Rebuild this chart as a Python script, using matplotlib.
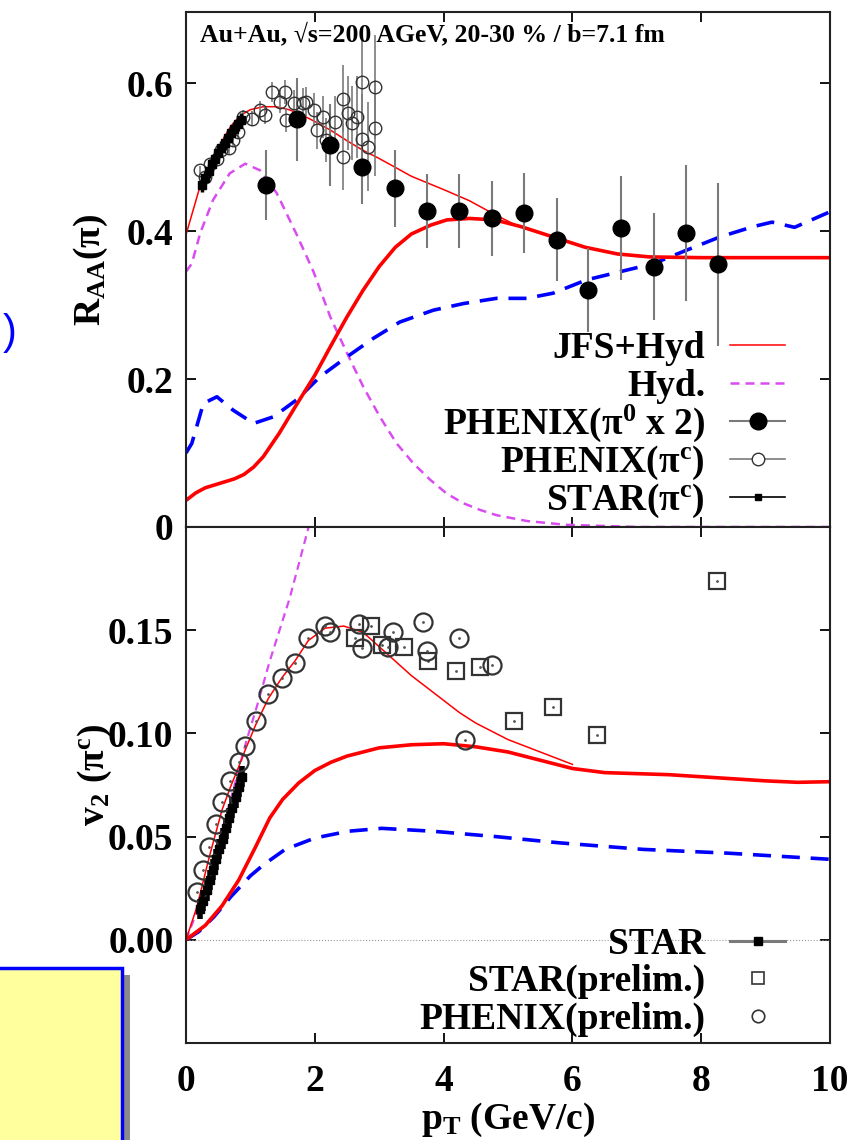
import numpy as np
import matplotlib.pyplot as plt
from matplotlib.patches import Rectangle

# ---------------------- fonts ----------------------
plt.rcParams['font.family'] = ['Liberation Serif', 'DejaVu Serif']
plt.rcParams['font.weight'] = 'bold'
plt.rcParams['axes.labelweight'] = 'bold'
plt.rcParams['mathtext.fontset'] = 'custom'
plt.rcParams['mathtext.rm'] = 'Liberation Serif:bold'
plt.rcParams['mathtext.it'] = 'Liberation Serif:bold'
plt.rcParams['mathtext.bf'] = 'Liberation Serif:bold'
plt.rcParams['mathtext.default'] = 'rm'

# ---------------------- top panel: R_AA ----------------------
jfs_thin_x = [0.0, 0.2, 0.3, 0.4, 0.5, 0.6, 0.7, 0.8, 0.9, 1.0, 1.2, 1.4, 1.6, 1.8, 2.0,
              2.25, 2.5, 2.75, 3.0, 3.5, 4.0, 4.4, 4.8, 5.1]
jfs_thin_y = [0.395, 0.455, 0.475, 0.495, 0.51, 0.528, 0.542, 0.552, 0.559, 0.564, 0.568,
              0.568, 0.564, 0.557, 0.548, 0.536, 0.522, 0.509, 0.498, 0.474, 0.456, 0.441,
              0.422, 0.409]

jfs_thick_x = [0.0, 0.15, 0.3, 0.45, 0.6, 0.75, 0.9, 1.05, 1.2, 1.45, 1.7, 2.0, 2.25, 2.5,
               2.75, 3.0, 3.25, 3.5, 3.8, 4.05, 4.4, 4.8, 5.2, 5.7, 6.2, 6.7, 7.2, 8.0,
               9.0, 10.0]
jfs_thick_y = [0.036, 0.046, 0.053, 0.057, 0.061, 0.065, 0.071, 0.081, 0.095, 0.127,
               0.163, 0.205, 0.245, 0.284, 0.320, 0.352, 0.378, 0.396, 0.408, 0.415,
               0.417, 0.415, 0.406, 0.392, 0.378, 0.369, 0.365, 0.364, 0.364, 0.364]

blue_top_x = [0.0, 0.09, 0.27, 0.48, 0.73, 1.05, 1.36, 1.72, 2.08, 2.5, 2.91, 3.32, 3.84,
              4.31, 4.82, 5.29, 5.7, 6.22, 6.74, 7.26, 7.77, 8.29, 8.81, 9.1, 9.45, 10.0]
blue_top_y = [0.100, 0.113, 0.167, 0.176, 0.158, 0.140, 0.149, 0.172, 0.203, 0.230, 0.255,
              0.277, 0.293, 0.302, 0.309, 0.309, 0.316, 0.334, 0.345, 0.356, 0.374, 0.392,
              0.406, 0.412, 0.405, 0.426]

hyd_top_x = [0.0, 0.09, 0.22, 0.42, 0.68, 0.92, 1.15, 1.41, 1.72, 1.98, 2.24, 2.5, 2.75,
             3.01, 3.27, 3.53, 3.79, 4.05, 4.31, 4.57, 4.82, 5.3, 5.9, 7.0, 10.0]
hyd_top_y = [0.345, 0.356, 0.397, 0.442, 0.478, 0.491, 0.482, 0.451, 0.395, 0.345, 0.284,
             0.235, 0.190, 0.149, 0.113, 0.086, 0.064, 0.045, 0.032, 0.023, 0.016, 0.008,
             0.003, 0.0, 0.0]

phenix_pi0_x = [1.24, 1.73, 2.24, 2.74, 3.25, 3.75, 4.24, 4.75, 5.25, 5.76, 6.25, 6.75,
                7.26, 7.76, 8.26]
phenix_pi0_y = [0.462, 0.551, 0.516, 0.487, 0.458, 0.427, 0.427, 0.417, 0.424, 0.388,
                0.320, 0.404, 0.352, 0.397, 0.355]
phenix_pi0_err = [0.047, 0.056, 0.055, 0.050, 0.052, 0.050, 0.050, 0.051, 0.054, 0.056,
                  0.057, 0.070, 0.072, 0.092, 0.110]

phenix_pic_x = [0.22, 0.30, 0.37, 0.48, 0.55, 0.66, 0.73, 0.81, 0.89, 1.02, 1.15, 1.23,
                1.33, 1.46, 1.54, 1.56, 1.67, 1.82, 1.87, 1.98, 2.03, 2.13, 2.18, 2.31,
                2.44, 2.44, 2.52, 2.57, 2.65, 2.73, 2.73, 2.83, 2.93, 2.93]
phenix_pic_y = [0.482, 0.473, 0.491, 0.498, 0.509, 0.512, 0.523, 0.534, 0.554, 0.552,
                0.564, 0.557, 0.588, 0.575, 0.588, 0.550, 0.573, 0.573, 0.575, 0.564,
                0.536, 0.554, 0.523, 0.548, 0.579, 0.500, 0.559, 0.546, 0.554, 0.602,
                0.525, 0.514, 0.595, 0.539]
phenix_pic_err = [0.006, 0.006, 0.006, 0.007, 0.007, 0.008, 0.008, 0.009, 0.010, 0.010,
                  0.012, 0.012, 0.014, 0.015, 0.016, 0.016, 0.018, 0.020, 0.020, 0.022,
                  0.025, 0.028, 0.030, 0.035, 0.045, 0.045, 0.050, 0.050, 0.055, 0.070,
                  0.060, 0.060, 0.070, 0.065]

star_top_x = [0.25, 0.30, 0.35, 0.40, 0.45, 0.50, 0.55, 0.60, 0.65, 0.70, 0.75, 0.80, 0.85]
star_top_y = [0.462, 0.472, 0.481, 0.490, 0.498, 0.505, 0.512, 0.519, 0.526, 0.532,
              0.538, 0.544, 0.550]
star_top_err = [0.009] * 13

# ---------------------- bottom panel: v2 ----------------------
jfs_thin_v2_x = [0.0, 0.17, 0.36, 0.56, 0.69, 0.82, 0.92, 1.08, 1.28, 1.49, 1.69, 1.9,
                 2.16, 2.45, 2.75, 3.0, 3.25, 3.5, 3.75, 4.0, 4.25, 4.5, 4.75, 5.0, 5.25,
                 5.5, 5.75, 6.0]
jfs_thin_v2_y = [0.0, 0.016, 0.040, 0.063, 0.074, 0.084, 0.092, 0.104, 0.117, 0.127,
                 0.135, 0.145, 0.151, 0.152, 0.149, 0.142, 0.135, 0.128, 0.122, 0.116,
                 0.110, 0.105, 0.101, 0.097, 0.094, 0.091, 0.088, 0.085]

jfs_thick_v2_x = [0.0, 0.3, 0.56, 0.82, 1.08, 1.3, 1.5, 1.75, 2.0, 2.25, 2.5, 3.0, 3.5,
                  4.0, 4.5, 5.0, 5.5, 6.0, 6.5, 7.0, 7.5, 8.0, 8.5, 9.0, 9.5, 10.0]
jfs_thick_v2_y = [0.0, 0.007, 0.0165, 0.029, 0.045, 0.059, 0.068, 0.076, 0.082, 0.086,
                  0.089, 0.093, 0.0945, 0.095, 0.0935, 0.091, 0.087, 0.083, 0.081, 0.0805,
                  0.080, 0.079, 0.078, 0.077, 0.0763, 0.0766]

blue_v2_x = [0.0, 0.2, 0.43, 0.7, 1.0, 1.21, 1.54, 2.0, 2.52, 3.04, 3.83, 4.81, 5.79,
             7.1, 8.4, 10.0]
blue_v2_y = [0.0, 0.004, 0.011, 0.021, 0.031, 0.0365, 0.0438, 0.0493, 0.0526, 0.054,
             0.0526, 0.050, 0.047, 0.0438, 0.042, 0.039]

hyd_v2_x = [0.0, 0.3, 0.6, 0.94, 1.1, 1.3, 1.61, 1.87, 1.92]
hyd_v2_y = [0.0, 0.024, 0.057, 0.0966, 0.113, 0.135, 0.1655, 0.196, 0.202]

star_v2_x = [0.22, 0.27, 0.32, 0.37, 0.42, 0.47, 0.52, 0.57, 0.62, 0.67, 0.72, 0.77,
             0.82, 0.87]
star_v2_y = [0.015, 0.019, 0.024, 0.029, 0.034, 0.039, 0.044, 0.049, 0.054, 0.059,
             0.064, 0.069, 0.074, 0.079]
star_v2_err = [0.005] * 14

star_pre_x = [2.63, 2.88, 3.04, 3.39, 3.76, 4.19, 4.57, 5.09, 5.70, 6.38, 8.25]
star_pre_y = [0.146, 0.152, 0.143, 0.142, 0.135, 0.130, 0.132, 0.106, 0.113, 0.0993, 0.1736]

phenix_pre_x = [0.17, 0.27, 0.36, 0.46, 0.56, 0.69, 0.82, 0.92, 1.08, 1.28, 1.49, 1.69,
                1.90, 2.16, 2.24, 2.68, 2.73, 3.14, 3.22, 3.68, 3.74, 4.24, 4.33, 4.75]
phenix_pre_y = [0.023, 0.034, 0.045, 0.056, 0.067, 0.077, 0.086, 0.094, 0.106, 0.119,
                0.127, 0.134, 0.146, 0.152, 0.149, 0.153, 0.1415, 0.142, 0.149, 0.154,
                0.140, 0.146, 0.097, 0.133]

xticks = [0, 2, 4, 6, 8, 10]

RED = '#ff0000'
BLUE = '#0000ff'
MAG = '#d94cf0'
GRAY = '#7a7a7a'
FS = 27

fig = plt.figure(figsize=(8.53, 11.40), dpi=100)
ax1 = fig.add_axes([186 / 853, 1 - 527 / 1140, 644 / 853, 515 / 1140])
ax2 = fig.add_axes([186 / 853, 1 - 1043 / 1140, 644 / 853, 516 / 1140])

for ax in (ax1, ax2):
    ax.set_xlim(0, 10)
    ax.set_xticks(xticks)
    ax.tick_params(direction='in', length=7, width=1.3, top=True, right=True,
                   labelsize=FS, colors='black')
    ax.tick_params(axis='y', pad=9)
    ax.tick_params(axis='x', pad=15)
    for s in ax.spines.values():
        s.set_linewidth(1.5)
        s.set_color('#222222')

# ---- top panel ----
ax1.set_ylim(0, 0.696)
ax1.set_yticks([0, 0.2, 0.4, 0.6])
ax1.set_yticklabels(['0', '0.2', '0.4', '0.6'])
ax1.tick_params(labelbottom=False)

ax1.plot(hyd_top_x, hyd_top_y, color=MAG, lw=1.8, dashes=(3.6, 2.4))
ax1.plot(blue_top_x, blue_top_y, color=BLUE, lw=2.6, dashes=(5, 3))
ax1.plot(jfs_thick_x, jfs_thick_y, color=RED, lw=2.6)
ax1.plot(jfs_thin_x, jfs_thin_y, color=RED, lw=1.1)
ax1.errorbar(phenix_pic_x, phenix_pic_y, yerr=phenix_pic_err, fmt='o', ms=9,
             mfc='none', mec='#333333', mew=1.0, ecolor=GRAY, elinewidth=1.2, capsize=0)
ax1.errorbar(star_top_x, star_top_y, yerr=star_top_err, fmt='s', ms=5.5,
             color='black', ecolor='black', elinewidth=2.5, capsize=0)
ax1.errorbar(phenix_pi0_x, phenix_pi0_y, yerr=phenix_pi0_err, fmt='o', ms=12,
             mfc='black', mec='black', ecolor=GRAY, elinewidth=1.5, capsize=0)

ax1.text(0.022, 0.944, 'Au+Au, \u221as=200 AGeV, 20-30 % / b=7.1 fm',
         transform=ax1.transAxes, fontsize=18.5, va='baseline')

ax1.set_ylabel(r'$R_{AA}(\pi)$', fontsize=FS, va='baseline')
ax1.yaxis.set_label_coords(-0.1335, 0.5)


def legend_row(ax, y, label, line=None, marker=None):
    ax.text(0.806, y - 0.025, label, transform=ax.transAxes, ha='right',
            va='baseline', fontsize=FS)
    if line is not None:
        ax.plot([0.845, 0.930], [y, y], transform=ax.transAxes, clip_on=False, **line)
    if marker is not None:
        ax.plot([0.888], [y], transform=ax.transAxes, clip_on=False, ls='none', **marker)


legend_row(ax1, 0.353, 'JFS+Hyd', line=dict(color=RED, lw=1.1))
legend_row(ax1, 0.280, 'Hyd.', line=dict(color=MAG, lw=1.8, dashes=(3.6, 2.4)))
legend_row(ax1, 0.206, r'PHENIX($\pi^{0}$ x 2)', line=dict(color=GRAY, lw=1.5),
           marker=dict(marker='o', ms=12, color='black'))
legend_row(ax1, 0.132, r'PHENIX($\pi^{c}$)', line=dict(color=GRAY, lw=1.2),
           marker=dict(marker='o', ms=9, mfc='white', mec='#333333', mew=1.0))
legend_row(ax1, 0.058, r'STAR($\pi^{c}$)', line=dict(color='black', lw=1.2),
           marker=dict(marker='s', ms=5, color='black'))

# ---- bottom panel ----
ax2.set_ylim(-0.05, 0.2)
ax2.set_yticks([0, 0.05, 0.10, 0.15])
ax2.set_yticklabels(['0.00', '0.05', '0.10', '0.15'])
ax2.set_xticklabels([str(t) for t in xticks])
ax2.axhline(0, color='#999999', lw=0.8, ls=':')

ax2.plot(hyd_v2_x, hyd_v2_y, color=MAG, lw=1.6, dashes=(3.6, 2.4))
ax2.plot(blue_v2_x, blue_v2_y, color=BLUE, lw=2.6, dashes=(5, 3))
ax2.plot(jfs_thick_v2_x, jfs_thick_v2_y, color=RED, lw=2.6)
ax2.plot(jfs_thin_v2_x, jfs_thin_v2_y, color=RED, lw=1.1)
ax2.errorbar(star_v2_x, star_v2_y, yerr=star_v2_err, fmt='s', ms=6,
             color='black', ecolor='black', elinewidth=4, capsize=0)
ax2.plot(star_pre_x, star_pre_y, 's', ms=12, mfc='none', mec='#333333', mew=1.6)
ax2.plot(star_pre_x, star_pre_y, '.', ms=2, color='#555555')
ax2.plot(phenix_pre_x, phenix_pre_y, 'o', ms=13, mfc='none', mec='#333333', mew=1.6)
ax2.plot(phenix_pre_x, phenix_pre_y, '.', ms=2, color='#555555')

ax2.set_ylabel(r'$v_{2}\ (\pi^{c})$', fontsize=FS, va='baseline')
ax2.yaxis.set_label_coords(-0.128, 0.52)
ax2.set_xlabel(r'$p_{T}$ (GeV/c)', fontsize=FS, va='baseline')
ax2.xaxis.set_label_coords(0.5, -0.166)

legend_row(ax2, 0.198, 'STAR', line=dict(color=GRAY, lw=2.2),
           marker=dict(marker='s', ms=6, color='black'))
legend_row(ax2, 0.126, 'STAR(prelim.)',
           marker=dict(marker='s', ms=8, mfc='white', mec='#333333', mew=1.2))
legend_row(ax2, 0.052, 'PHENIX(prelim.)',
           marker=dict(marker='o', ms=9, mfc='white', mec='#333333', mew=1.2))

# ---------------------- cut-off slide elements on the left ----------------------
fig.text(3 / 853, 1 - 333 / 1140, ')', color=BLUE, fontsize=30, ha='left', va='center',
         family=['Liberation Sans', 'DejaVu Sans'], fontweight='normal')
fig.patches.append(Rectangle((-20 / 853, -20 / 1140), 150 / 853, (1140 - 975 + 20) / 1140,
                             transform=fig.transFigure, facecolor='#8a8a8a', edgecolor='none'))
fig.patches.append(Rectangle((-20 / 853, -20 / 1140), 142 / 853, (1140 - 968 + 20) / 1140,
                             transform=fig.transFigure, facecolor='#ffff9e',
                             edgecolor=BLUE, lw=2.5))

fig.savefig('out.png', dpi=100)
